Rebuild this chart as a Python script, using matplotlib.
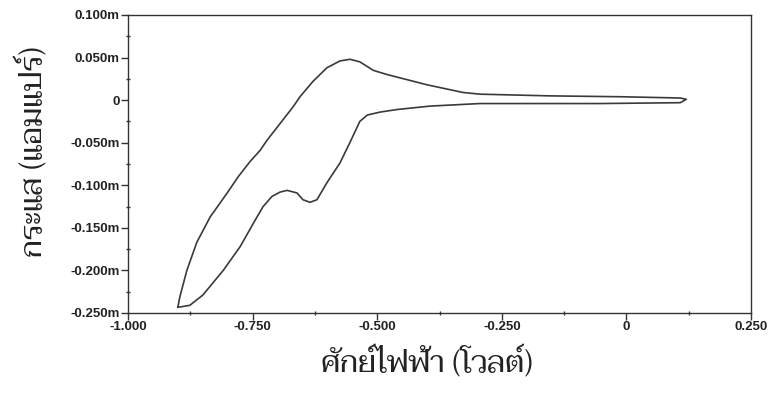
import matplotlib
matplotlib.use("Agg")
import matplotlib.pyplot as plt
from matplotlib.ticker import MultipleLocator, FuncFormatter

# cyclic voltammogram (potential in V, current in mA)
# forward sweep: from the vertex at -0.9 V up past the peak to the tip
fwd_v = [-0.900, -0.896, -0.882, -0.862, -0.835, -0.801, -0.779, -0.755, -0.735,
         -0.721, -0.701, -0.689, -0.669, -0.655, -0.629, -0.601, -0.575, -0.555,
         -0.535, -0.508, -0.480, -0.440, -0.400, -0.360, -0.328, -0.294, -0.153,
         -0.013, 0.108, 0.120]
fwd_i = [-0.243, -0.231, -0.200, -0.167, -0.137, -0.109, -0.090, -0.072, -0.059,
         -0.047, -0.032, -0.023, -0.008, 0.004, 0.022, 0.038, 0.046, 0.048,
         0.045, 0.035, 0.030, 0.024, 0.018, 0.013, 0.009, 0.007, 0.005,
         0.004, 0.0025, 0.001]
# reverse sweep: from the tip back to the vertex
rev_v = [0.108, -0.053, -0.213, -0.294, -0.394, -0.460, -0.494, -0.520, -0.535,
         -0.555, -0.575, -0.601, -0.621, -0.635, -0.649, -0.661, -0.681, -0.695,
         -0.711, -0.729, -0.745, -0.775, -0.809, -0.850, -0.876, -0.896, -0.900]
rev_i = [-0.003, -0.004, -0.004, -0.004, -0.007, -0.011, -0.014, -0.0175, -0.025,
         -0.050, -0.074, -0.097, -0.117, -0.120, -0.117, -0.109, -0.106, -0.108,
         -0.113, -0.125, -0.141, -0.172, -0.200, -0.229, -0.241, -0.243, -0.243]

xlabel = "ศักย์ไฟฟ้า (โวลต์)"
ylabel = "กระแส (แอมแปร์)"

fig = plt.figure(figsize=(7.68, 4.01), dpi=100)
ax = fig.add_axes([0.1667, 0.2195, 0.8113, 0.7431])

ax.plot(fwd_v + rev_v, fwd_i + rev_i, color="#3a3a3a", lw=1.2)

ax.set_xlim(-1.0, 0.25)
ax.set_ylim(-0.25, 0.10)
ax.xaxis.set_major_locator(MultipleLocator(0.25))
ax.xaxis.set_minor_locator(MultipleLocator(0.125))
ax.yaxis.set_major_locator(MultipleLocator(0.05))
ax.yaxis.set_minor_locator(MultipleLocator(0.025))
ax.xaxis.set_major_formatter(FuncFormatter(lambda v, p: "0" if abs(v) < 1e-9 else "%.3f" % v))
ax.yaxis.set_major_formatter(FuncFormatter(lambda v, p: "0" if abs(v) < 1e-9 else "%.3fm" % v))

for s in ax.spines.values():
    s.set_color("#333333")
    s.set_linewidth(1.0)
ax.tick_params(which="major", direction="out", length=5, width=1.0, color="#333333",
               labelsize=9.5, pad=1)
ax.tick_params(which="minor", direction="inout", length=3, width=1.0, color="#333333")
for t in ax.get_xticklabels() + ax.get_yticklabels():
    t.set_family("Liberation Sans")
    t.set_fontweight("bold")
    t.set_color("#222222")

ax.set_xlabel(xlabel, family="Taviraj", fontsize=22, color="#222222")
ax.xaxis.set_label_coords(0.48, -0.11)
ax.set_ylabel(ylabel, family="Taviraj", fontsize=22, color="#222222")
ax.yaxis.set_label_coords(-0.128, 0.54)

fig.savefig("out.png", dpi=100)
